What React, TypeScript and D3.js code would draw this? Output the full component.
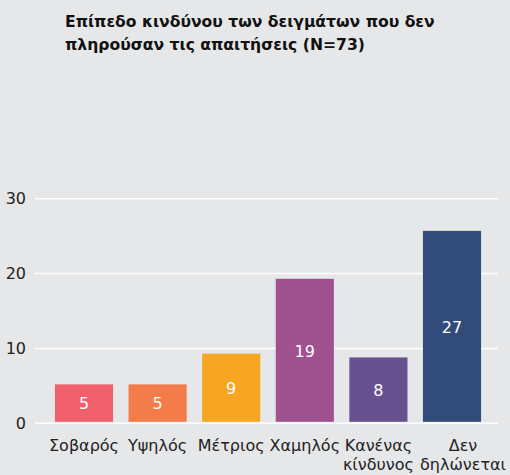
import React, { useRef, useEffect } from "react";
import * as d3 from "d3";

const titleLines = [
  "Επίπεδο κινδύνου των δειγμάτων που δεν",
  "πληρούσαν τις απαιτήσεις (N=73)",
];
const categories = [
  ["Σοβαρός"],
  ["Υψηλός"],
  ["Μέτριος"],
  ["Χαμηλός"],
  ["Κανένας", "κίνδυνος"],
  ["Δεν", "δηλώνεται"],
];
// bar heights as drawn in the picture
const barHeights = [5.2, 5.2, 9.3, 19.3, 8.8, 25.7];
// numbers printed on the bars
const valueLabels = [5, 5, 9, 19, 8, 27];
const colors = ["#f25f6d", "#f47c4a", "#f6a623", "#a05190", "#67528f", "#314b7b"];
const yTicks = [0, 10, 20, 30];

const App = () => {
  const ref = useRef<SVGSVGElement>(null);

  useEffect(() => {
    if (!ref.current) return;
    const width = 510;
    const height = 475;
    const svg = d3.select(ref.current);
    svg.selectAll("*").remove();

    svg.append("rect")
      .attr("width", width)
      .attr("height", height)
      .attr("fill", "#e6e7e9");

    const title = svg.append("text")
      .attr("font-family", "DejaVu Sans")
      .attr("font-weight", "bold")
      .attr("font-size", 15.6)
      .attr("fill", "#111");
    titleLines.forEach((t, i) => {
      title.append("tspan").attr("x", 65).attr("y", 27 + i * 23).text(t);
    });

    const x = d3.scaleBand<number>()
      .domain(d3.range(categories.length))
      .range([47.2, 488.8])
      .paddingInner(0.21)
      .paddingOuter(0.105);

    const y = d3.scaleLinear().domain([0, 30]).range([423.3, 198.7]);

    const grid = svg.append("g");
    grid.selectAll("line")
      .data(yTicks)
      .enter()
      .append("line")
      .attr("x1", 35)
      .attr("x2", 498)
      .attr("y1", d => y(d))
      .attr("y2", d => y(d))
      .attr("stroke", "#ffffff")
      .attr("stroke-width", 1.5);

    grid.selectAll("text")
      .data(yTicks)
      .enter()
      .append("text")
      .attr("x", 26)
      .attr("y", d => y(d))
      .attr("dy", "0.35em")
      .attr("text-anchor", "end")
      .attr("font-family", "DejaVu Sans")
      .attr("font-size", 16)
      .attr("fill", "#222")
      .text(d => d);

    const bars = svg.append("g");
    bars.selectAll("rect")
      .data(barHeights)
      .enter()
      .append("rect")
      .attr("x", (d, i) => x(i)!)
      .attr("width", x.bandwidth())
      .attr("y", d => y(d))
      .attr("height", d => y(0) - 1.5 - y(d))
      .attr("fill", (d, i) => colors[i]);

    bars.selectAll("text")
      .data(barHeights)
      .enter()
      .append("text")
      .attr("x", (d, i) => x(i)! + x.bandwidth() / 2)
      .attr("y", d => (y(d) + y(0)) / 2)
      .attr("dy", "0.35em")
      .attr("text-anchor", "middle")
      .attr("font-family", "DejaVu Sans")
      .attr("font-size", 16)
      .attr("fill", "#ffffff")
      .text((d, i) => valueLabels[i]);

    const cats = svg.append("g");
    categories.forEach((lines, i) => {
      // last label is pushed right, as in the original
      const nudge = i === categories.length - 1 ? 11 : 0;
      const t = cats.append("text")
        .attr("text-anchor", "middle")
        .attr("font-family", "DejaVu Sans")
        .attr("font-size", 16)
        .attr("fill", "#222");
      lines.forEach((l, j) => {
        t.append("tspan")
          .attr("x", x(i)! + x.bandwidth() / 2 + nudge)
          .attr("y", 451 + j * 19)
          .text(l);
      });
    });
  }, []);

  return (
    <svg
      ref={ref}
      width={510}
      height={475}
      style={{ position: "absolute", left: 0, top: 0 }}
    ></svg>
  );
};

export default App;
